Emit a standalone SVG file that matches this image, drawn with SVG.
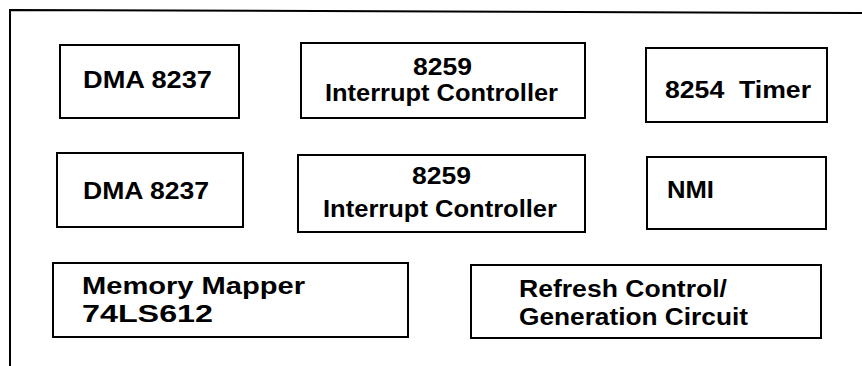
<svg xmlns="http://www.w3.org/2000/svg" width="862" height="366" viewBox="0 0 862 366">
<style>
.box{fill:#fff;stroke:#000;stroke-width:2}
.frame{fill:none;stroke:#000;stroke-width:2}
text{font-family:"Liberation Sans",Arial,Helvetica,sans-serif;font-weight:bold;font-size:23px;fill:#000}
</style>
<rect width="862" height="366" fill="#fff"/>
<polyline class="frame" points="10,366 10,10 862,13"/>
<g id="dma1">
<rect class="box" x="60" y="45" width="179" height="73"/>
<text x="83" y="88" textLength="129" lengthAdjust="spacingAndGlyphs">DMA 8237</text>
</g>
<g id="pic1">
<rect class="box" x="301" y="43" width="284" height="75"/>
<text x="413" y="75" textLength="59" lengthAdjust="spacingAndGlyphs">8259</text>
<text x="325" y="101" textLength="233" lengthAdjust="spacingAndGlyphs">Interrupt Controller</text>
</g>
<g id="timer">
<rect class="box" x="646" y="48" width="181" height="74"/>
<text x="665" y="98" textLength="146" lengthAdjust="spacingAndGlyphs" xml:space="preserve">8254  Timer</text>
</g>
<g id="dma2">
<rect class="box" x="57" y="153" width="186" height="74"/>
<text x="83" y="199" textLength="126" lengthAdjust="spacingAndGlyphs">DMA 8237</text>
</g>
<g id="pic2">
<rect class="box" x="298" y="155" width="287" height="77"/>
<text x="412" y="184" textLength="59" lengthAdjust="spacingAndGlyphs">8259</text>
<text x="323" y="217" textLength="234" lengthAdjust="spacingAndGlyphs">Interrupt Controller</text>
</g>
<g id="nmi">
<rect class="box" x="647" y="157" width="179" height="72"/>
<text x="667" y="198" textLength="47" lengthAdjust="spacingAndGlyphs">NMI</text>
</g>
<g id="mapper">
<rect class="box" x="53" y="263" width="355" height="74"/>
<text x="82" y="294" textLength="223" lengthAdjust="spacingAndGlyphs">Memory Mapper</text>
<text x="82" y="322" textLength="131" lengthAdjust="spacingAndGlyphs">74LS612</text>
</g>
<g id="refresh">
<rect class="box" x="471" y="265" width="350" height="73"/>
<text x="519" y="297" textLength="208" lengthAdjust="spacingAndGlyphs">Refresh Control/</text>
<text x="519" y="325" textLength="229" lengthAdjust="spacingAndGlyphs">Generation Circuit</text>
</g>
</svg>
